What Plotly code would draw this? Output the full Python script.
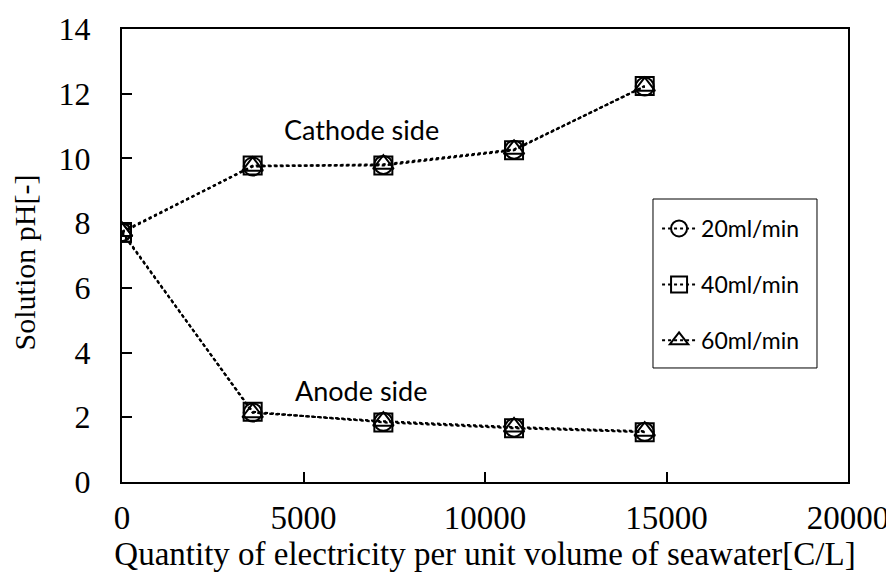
import plotly.graph_objects as go

x_q = [0, 3600, 7200, 10800, 14400]
series_names = ["20ml/min", "40ml/min", "60ml/min"]
cathode = {
    "20ml/min": [7.72, 9.75, 9.80, 10.27, 12.22],
    "40ml/min": [7.70, 9.78, 9.78, 10.25, 12.24],
    "60ml/min": [7.74, 9.76, 9.82, 10.28, 12.23],
}
anode = {
    "20ml/min": [7.72, 2.15, 1.86, 1.68, 1.55],
    "40ml/min": [7.70, 2.17, 1.84, 1.66, 1.54],
    "60ml/min": [7.74, 2.14, 1.88, 1.70, 1.57],
}
symbols = ["circle-open", "square-open", "triangle-up-open"]
x_ticks = [0, 5000, 10000, 15000, 20000]
y_ticks = [0, 2, 4, 6, 8, 10, 12, 14]

fig = go.Figure()
for name, sym in zip(series_names, symbols):
    fig.add_trace(go.Scatter(
        x=x_q + [None] + x_q,
        y=cathode[name] + [None] + anode[name],
        mode="lines+markers",
        name=name,
        legendgroup=name,
        connectgaps=False,
        line=dict(color="black", width=2, dash="dot"),
        marker=dict(symbol=sym, size=18, color="black", line=dict(width=2, color="black")),
    ))

serif = "Liberation Serif"
fig.update_layout(
    width=886, height=569,
    margin=dict(l=114, r=46, t=21, b=95, autoexpand=False),
    paper_bgcolor="white", plot_bgcolor="white",
    showlegend=True,
    legend=dict(
        x=0.737, y=0.607, xanchor="left", yanchor="top",
        borderwidth=0, bgcolor="rgba(0,0,0,0)",
        font=dict(family="Lato", size=23, color="black"),
        tracegroupgap=23, traceorder="grouped",
        itemwidth=34,
    ),
    shapes=[dict(type="rect", xref="paper", yref="paper",
                 x0=0.7314, x1=0.9573, y0=0.2517, y1=0.6247,
                 line=dict(color="black", width=1), fillcolor="rgba(0,0,0,0)")],
    xaxis=dict(
        range=[0, 20000], tickvals=x_ticks, ticktext=[str(v) for v in x_ticks],
        showgrid=False, zeroline=False, showline=True, mirror=True,
        linecolor="black", linewidth=2, automargin=False,
        ticks="inside", ticklen=10, tickwidth=1.5, tickcolor="black",
        tickfont=dict(family=serif, size=33, color="black"),
        ticklabelstandoff=5,
        title=dict(text="Quantity of electricity per unit volume of seawater[C/L]",
                   font=dict(family=serif, size=33, color="black"), standoff=6),
    ),
    yaxis=dict(
        range=[0, 14], tickvals=y_ticks, ticktext=[str(v) for v in y_ticks],
        showgrid=False, zeroline=False, showline=True, mirror=True,
        linecolor="black", linewidth=2, automargin=False,
        ticks="inside", ticklen=10, tickwidth=1.5, tickcolor="black",
        tickfont=dict(family=serif, size=32, color="black"),
        ticklabelstandoff=23,
    ),
    annotations=[
        dict(x=6584, y=10.88, xref="x", yref="y", text="Cathode side", showarrow=False,
             font=dict(family="Lato", size=27, color="black")),
        dict(x=6584, y=2.84, xref="x", yref="y", text="Anode side", showarrow=False,
             font=dict(family="Lato", size=27, color="black")),
        dict(x=-0.133, y=0.4857, xref="paper", yref="paper", text="Solution pH[-]",
             textangle=-90, showarrow=False, xanchor="center", yanchor="middle",
             borderpad=0,
             font=dict(family=serif, size=30, color="black")),
    ],
)
fig.write_html("out.html")
